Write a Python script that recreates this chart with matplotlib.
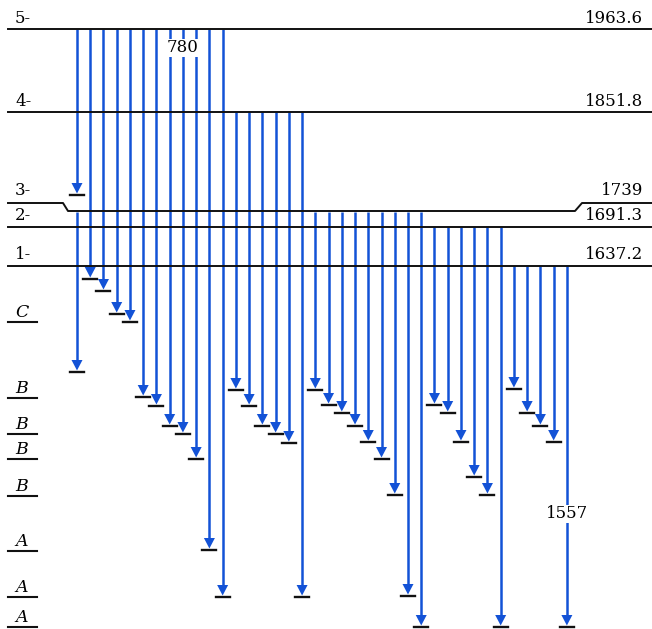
import matplotlib
matplotlib.use("Agg")
from matplotlib import pyplot as plt
from matplotlib.patches import Polygon

# initial levels: name, energy label, drawn height (px from top)
level_names = ["5-", "4-", "3-", "2-", "1-"]
level_energies = ["1963.6", "1851.8", "1739", "1691.3", "1637.2"]
level_y = [29, 112, 211, 227, 266]

# final states on the left
final_names = ["C", "B", "B", "B", "B", "A", "A", "A"]
final_y = [322, 398, 434, 459, 496, 551, 597, 627]

# arrow end heights, grouped by the level they start from (one column each)
ends_5 = [195, 279, 291, 314, 322, 397, 406, 426, 434, 459, 550, 597]
ends_4 = [390, 406, 426, 434, 443, 597]
ends_3 = [390, 405, 413, 426, 442, 459, 495, 596, 627]
ends_2 = [405, 413, 442, 477, 495, 627]
ends_1 = [389, 413, 426, 442, 627]
# extra arrow from level 3 in the first column
extra = (2, 0, 372)

col_x0 = 77
col_dx = 13.24
blue = "#1352d6"
serif = "DejaVu Serif"

fig = plt.figure(figsize=(6.52, 6.29), dpi=100)
ax = fig.add_axes([0, 0, 1, 1])
ax.set_xlim(0, 652)
ax.set_ylim(629, 0)
ax.axis("off")

# level lines
for i, y in enumerate(level_y):
    if i == 2:
        xs = [8, 63, 68, 575, 582, 652]
        ys = [203, 203, y, y, 203, 203]
    else:
        xs = [8, 652]
        ys = [y, y]
    ax.plot(xs, ys, color="#111111", lw=1.4, zorder=3)

label_base = [23, 106, 195, 220, 259]
for name, e, yb in zip(level_names, level_energies, label_base):
    ax.text(15, yb, name, family=serif, fontsize=12, va="baseline", ha="left")
    ax.text(643, yb, e, family=serif, fontsize=12, va="baseline", ha="right")

# final state labels
for name, y in zip(final_names, final_y):
    ax.plot([8, 37], [y, y], color="#111111", lw=1.5)
    ax.text(22, y - 5, name, family=serif, style="italic", fontsize=12.5,
            va="baseline", ha="center")

arrows = []
col = 0
for lev, ends in enumerate([ends_5, ends_4, ends_3, ends_2, ends_1]):
    for e in ends:
        arrows.append((lev, col, e))
        col += 1
arrows.append(extra)


def draw_arrow(x, y0, y1):
    ax.plot([x, x], [y0, y1 - 8], color=blue, lw=1.8, zorder=2,
            solid_capstyle="butt")
    tri = Polygon([[x - 5.5, y1 - 12], [x + 5.5, y1 - 12], [x, y1 - 1.5]],
                  closed=True, color=blue, zorder=4, lw=0)
    ax.add_patch(tri)
    ax.plot([x - 7, x + 7], [y1, y1], color="#111111", lw=1.7, zorder=4)


for lev, c, e in arrows:
    x = col_x0 + col_dx * c
    start = level_y[lev]
    if lev == 2:
        start = level_y[lev] + 1
    draw_arrow(x, start, e)

# energy labels on transitions
ax.text(183, 48, "780", family=serif, fontsize=12, ha="center", va="center",
        zorder=5, bbox=dict(facecolor="white", edgecolor="none", pad=0.5))
ax.text(567, 514, "1557", family=serif, fontsize=12, ha="center", va="center",
        zorder=5, bbox=dict(facecolor="white", edgecolor="none", pad=0.5))

fig.savefig("out.png", dpi=100)
